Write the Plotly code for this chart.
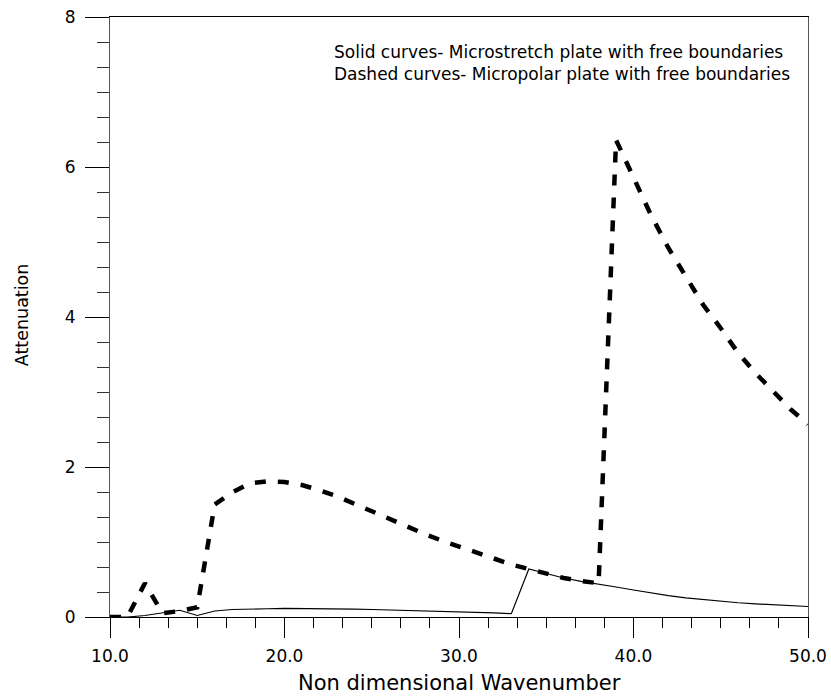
import plotly.graph_objects as go

# Non dimensional wavenumber
wavenumber = [10, 11, 12, 13, 14, 15, 16, 17, 18, 19, 20, 21, 22, 23, 24, 25, 26, 27, 28, 29,
              30, 31, 32, 33, 34, 35, 36, 37, 38, 39, 40, 41, 42, 43, 44, 45, 46, 47, 48, 49, 50]

# Solid curve: microstretch plate with free boundaries
microstretch = [0.0, 0.0, 0.02, 0.05, 0.09, 0.02, 0.08, 0.10, 0.11, 0.11, 0.115, 0.115, 0.115, 0.11,
                0.105, 0.10, 0.095, 0.09, 0.08, 0.075, 0.07, 0.06, 0.055, 0.045, 0.64, 0.58, 0.52,
                0.475, 0.44, 0.40, 0.36, 0.32, 0.285, 0.255, 0.23, 0.205, 0.19, 0.175, 0.16, 0.15, 0.14]

# Dashed curve: micropolar plate with free boundaries
micropolar = [0.0, 0.0, 0.45, 0.05, 0.08, 0.13, 1.50, 1.66, 1.78, 1.81, 1.80, 1.76, 1.69, 1.61,
              1.51, 1.41, 1.30, 1.20, 1.11, 1.02, 0.935, 0.86, 0.78, 0.70, 0.64, 0.58, 0.52,
              0.48, 0.45, 6.36, 5.87, 5.36, 4.92, 4.53, 4.16, 3.85, 3.52, 3.25, 3.00, 2.77, 2.57]

x_ticks = [10, 20, 30, 40, 50]
x_tick_labels = ["10.0", "20.0", "30.0", "40.0", "50.0"]
y_ticks = [0, 2, 4, 6, 8]

FONT = "DejaVu Sans"

fig = go.Figure()
fig.add_trace(go.Scatter(x=wavenumber, y=microstretch, mode="lines",
                         line=dict(color="black", width=1.2), showlegend=False))
fig.add_trace(go.Scatter(x=wavenumber, y=micropolar, mode="lines",
                         line=dict(color="black", width=4.5, dash="11px,12px"), showlegend=False))

fig.update_layout(
    template="none",
    width=831, height=697,
    margin=dict(l=110, r=23, t=17, b=80),
    paper_bgcolor="white", plot_bgcolor="white",
    font=dict(family=FONT, color="black", size=17),
    xaxis=dict(range=[10, 50], tickvals=x_ticks, ticktext=x_tick_labels,
               automargin=False,
               ticks="outside", ticklen=20, tickwidth=1, tickcolor="black",
               showline=True, linecolor="black", linewidth=1, mirror=True,
               showgrid=False, zeroline=False, ticklabelstandoff=4,
               minor=dict(dtick=10/6, tick0=10, ticks="outside", ticklen=10,
                          tickcolor="black", tickwidth=1, showgrid=False),
               tickfont=dict(size=17)),
    yaxis=dict(range=[0, 8], tickvals=y_ticks,
               automargin=False,
               ticks="outside", ticklen=24, tickwidth=1, tickcolor="black",
               showline=True, linecolor="#555", linewidth=1, mirror=True,
               showgrid=False, zeroline=False, ticklabelstandoff=6,
               minor=dict(dtick=1/3, tick0=0, ticks="outside", ticklen=12,
                          tickcolor="#333", tickwidth=1, showgrid=False),
               tickfont=dict(size=17)),
    annotations=[
        dict(text="Non dimensional Wavenumber", xref="paper", yref="paper",
             x=0.5, y=0.0, yshift=-66, xanchor="center", yanchor="middle",
             showarrow=False, font=dict(size=21)),
        dict(text="Attenuation", xref="paper", yref="paper",
             x=0, xshift=-88, y=0.503, xanchor="center", yanchor="middle",
             textangle=-90, showarrow=False, font=dict(size=17.5)),
        dict(text="Solid curves- Microstretch plate with free boundaries",
             xref="paper", yref="paper", x=(332 - 110) / 698, y=(617 - 52) / 600,
             xanchor="left", yanchor="middle", showarrow=False, font=dict(size=17)),
        dict(text="Dashed curves- Micropolar plate with free boundaries",
             xref="paper", yref="paper", x=(332 - 110) / 698, y=(617 - 74) / 600,
             xanchor="left", yanchor="middle", showarrow=False, font=dict(size=17)),
    ],
)

fig.write_html("out.html")
